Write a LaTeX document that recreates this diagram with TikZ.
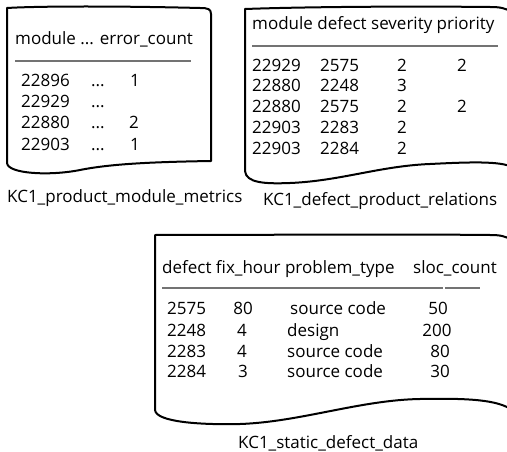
\documentclass[tikz,border=0pt]{standalone}
\usepackage{fontspec}
\setmainfont{Open Sans}
\begin{document}
\begin{tikzpicture}[x=1pt,y=-1pt,
  doc/.style={draw=black,line width=2pt,line join=round},
  rule/.style={draw=black!55,line width=1.1pt},
  txt/.style={anchor=base west,inner sep=0pt,font=\fontsize{17}{19}\selectfont},
  mid/.style={anchor=base,inner sep=0pt,font=\fontsize{17}{19}\selectfont}]
\useasboundingbox[fill=white] (0,0) rectangle (507,452);

% --- document outlines ---
\path[doc] (7,163) .. controls (8,174) and (50,176) .. (80,170)
  .. controls (110,164) and (150,162) .. (211,161)
  -- (211,14) .. controls (211,9) and (208,8) .. (200,8)
  .. controls (120,6) and (40,6) .. (7,8) -- cycle;

\path[doc] (245,171) .. controls (246,183) and (265,184) .. (290,183)
  .. controls (340,181) and (380,166) .. (430,164)
  .. controls (470,162) and (500,161) .. (512,167)
  -- (512,12) .. controls (505,8) and (500,7) .. (490,7)
  .. controls (400,6) and (300,7) .. (245,9) -- cycle;

\path[doc] (155,410) .. controls (156,422) and (200,425) .. (240,424)
  .. controls (300,422) and (360,400) .. (420,399)
  .. controls (470,398) and (498,400) .. (512,410)
  -- (512,240) .. controls (505,236) and (500,235) .. (490,235)
  .. controls (400,234) and (250,235) .. (155,235) -- cycle;

% --- KC1_product_module_metrics ---
\node[txt] (h1) at (15,45) {module ... error\_count};
\draw[rule] (15,61) -- (191,61);
\node[txt] (a1) at (21,87) {22896};
\node[txt] (a2) at (21,108) {22929};
\node[txt] (a3) at (21,129) {22880};
\node[txt] (a4) at (21,150) {22903};
\node[txt] (d1) at (91,87) {...};
\node[txt] (d2) at (91,108) {...};
\node[txt] (d3) at (91,129) {...};
\node[txt] (d4) at (91,150) {...};
\node[txt] (e1) at (130,87) {1};
\node[txt] (e3) at (129,129) {2};
\node[txt] (e4) at (130,150) {1};
\node[txt] (l1) at (7,202) {KC1\_product\_module\_metrics};

% --- KC1_defect_product_relations ---
\node[txt] (h2) at (252,30) {module defect severity priority};
\draw[rule] (252,46) -- (498,46);
\node[txt] (m1) at (252,72) {22929};
\node[txt] (m2) at (252,92) {22880};
\node[txt] (m3) at (252,113) {22880};
\node[txt] (m4) at (252,134) {22903};
\node[txt] (m5) at (252,155) {22903};
\node[txt] (f1) at (320,72) {2575};
\node[txt] (f2) at (320,92) {2248};
\node[txt] (f3) at (320,113) {2575};
\node[txt] (f4) at (320,134) {2283};
\node[txt] (f5) at (320,155) {2284};
\node[mid] (s1) at (402,72) {2};
\node[mid] (s2) at (402,92) {3};
\node[mid] (s3) at (402,113) {2};
\node[mid] (s4) at (402,134) {2};
\node[mid] (s5) at (402,155) {2};
\node[mid] (p1) at (462,72) {2};
\node[mid] (p3) at (462,113) {2};
\node[txt] (l2) at (263,205) {KC1\_defect\_product\_relations};

% --- KC1_static_defect_data ---
\node[txt] (h3) at (162,273) {defect fix\_hour problem\_type};
\node[txt] (h3b) at (413,273) {sloc\_count};
\draw[rule] (162,288) -- (443,288);
\draw[rule] (445,288) -- (480,288);
\node[txt] (g1) at (167,314) {2575};
\node[txt] (g2) at (167,336) {2248};
\node[txt] (g3) at (167,357) {2283};
\node[txt] (g4) at (167,377) {2284};
\node[mid] (x1) at (243,314) {80};
\node[mid] (x2) at (242,336) {4};
\node[mid] (x3) at (242,357) {4};
\node[mid] (x4) at (243,377) {3};
\node[txt] (t1) at (290,314) {source code};
\node[txt] (t2) at (287,336) {design};
\node[txt] (t3) at (287,357) {source code};
\node[txt] (t4) at (287,377) {source code};
\node[mid] (c1) at (438,314) {50};
\node[mid] (c2) at (437,336) {200};
\node[mid] (c3) at (440,357) {80};
\node[mid] (c4) at (440,377) {30};
\node[txt] (l3) at (238,448) {KC1\_static\_defect\_data};
\end{tikzpicture}
\end{document}
